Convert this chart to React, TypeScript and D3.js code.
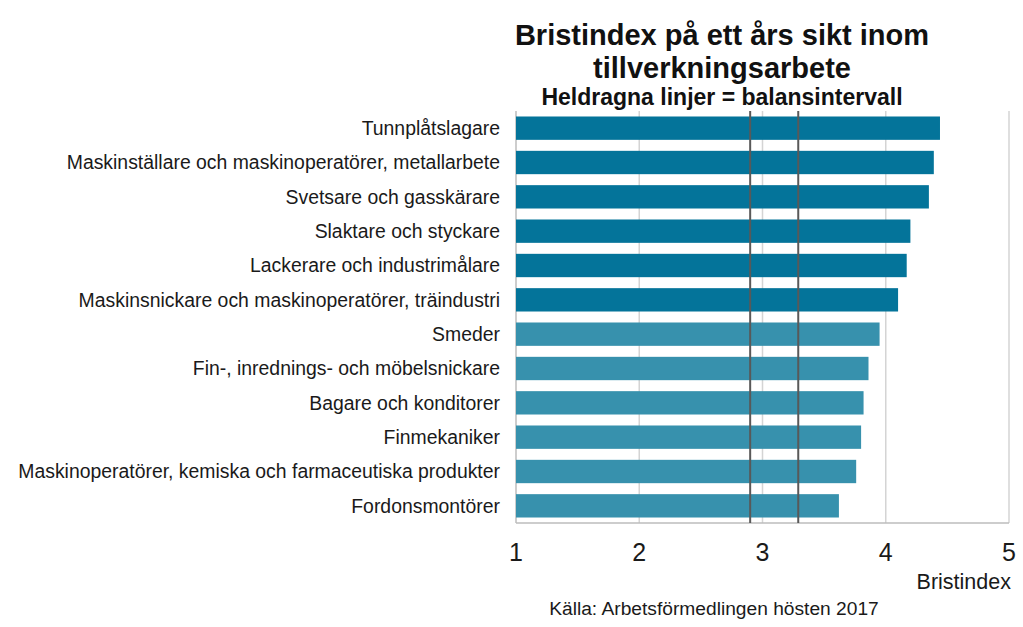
import * as d3 from "d3";
import { useEffect, useRef } from "react";

const categories = [
  "Tunnplåtslagare",
  "Maskinställare och maskinoperatörer, metallarbete",
  "Svetsare och gasskärare",
  "Slaktare och styckare",
  "Lackerare och industrimålare",
  "Maskinsnickare och maskinoperatörer, träindustri",
  "Smeder",
  "Fin-, inrednings- och möbelsnickare",
  "Bagare och konditorer",
  "Finmekaniker",
  "Maskinoperatörer, kemiska och farmaceutiska produkter",
  "Fordonsmontörer",
];
const values = [4.44, 4.39, 4.35, 4.2, 4.17, 4.1, 3.95, 3.86, 3.82, 3.8, 3.76, 3.62];
const balance = [2.9, 3.29];
const ticks = [1, 2, 3, 4, 5];

export default function App() {
  const ref = useRef<SVGSVGElement | null>(null);

  useEffect(() => {
    if (!ref.current) return;
    const width = 1023;
    const height = 627;
    const margin = { top: 111, right: 14, bottom: 104, left: 516 };
    const font = "'Liberation Sans', Arial, sans-serif";

    const svg = d3.select(ref.current);
    svg.selectAll("*").remove();

    const x = d3.scaleLinear().domain([1, 5]).range([margin.left, width - margin.right]);
    const y = d3
      .scaleBand()
      .domain(categories)
      .range([margin.top, height - margin.bottom])
      .paddingInner(0.32)
      .paddingOuter(0.16);

    // gridlines
    svg
      .append("g")
      .selectAll("line")
      .data(ticks)
      .join("line")
      .attr("x1", (d) => x(d))
      .attr("x2", (d) => x(d))
      .attr("y1", margin.top)
      .attr("y2", height - margin.bottom)
      .attr("stroke", (d) => (d === 1 ? "#bdbdbd" : "#d4d4d4"))
      .attr("stroke-width", 1.5);

    svg
      .append("line")
      .attr("x1", x(1))
      .attr("x2", x(5))
      .attr("y1", height - margin.bottom)
      .attr("y2", height - margin.bottom)
      .attr("stroke", "#bdbdbd")
      .attr("stroke-width", 1.5);

    // bars
    svg
      .append("g")
      .selectAll("rect")
      .data(values)
      .join("rect")
      .attr("x", x(1))
      .attr("y", (_, i) => y(categories[i])!)
      .attr("width", (d) => x(d) - x(1))
      .attr("height", y.bandwidth())
      .attr("fill", (_, i) => (i < 6 ? "#04749a" : "#3791ad"));

    // balance interval lines
    svg
      .append("g")
      .selectAll("line")
      .data(balance)
      .join("line")
      .attr("x1", (d) => x(d))
      .attr("x2", (d) => x(d))
      .attr("y1", margin.top)
      .attr("y2", height - margin.bottom)
      .attr("stroke", "#595959")
      .attr("stroke-width", 2);

    // category labels
    svg
      .append("g")
      .selectAll("text")
      .data(categories)
      .join("text")
      .attr("x", margin.left - 16)
      .attr("y", (d) => y(d)! + y.bandwidth() / 2)
      .attr("dy", "0.35em")
      .attr("text-anchor", "end")
      .attr("font-family", font)
      .attr("font-size", 19.4)
      .attr("fill", "#1a1a1a")
      .text((d) => d);

    // x tick labels
    svg
      .append("g")
      .selectAll("text")
      .data(ticks)
      .join("text")
      .attr("x", (d) => x(d))
      .attr("y", 561)
      .attr("text-anchor", "middle")
      .attr("font-family", font)
      .attr("font-size", 25)
      .attr("fill", "#1a1a1a")
      .text((d) => d);

    svg
      .append("text")
      .attr("x", width - margin.right + 2)
      .attr("y", 589)
      .attr("text-anchor", "end")
      .attr("font-family", font)
      .attr("font-size", 21.5)
      .attr("fill", "#1a1a1a")
      .text("Bristindex");

    svg
      .append("text")
      .attr("x", 714)
      .attr("y", 615)
      .attr("text-anchor", "middle")
      .attr("font-family", font)
      .attr("font-size", 19.2)
      .attr("fill", "#1a1a1a")
      .text("Källa: Arbetsförmedlingen hösten 2017");

    // titles
    const titles = [
      { t: "Bristindex på ett års sikt inom", y: 45, s: 29 },
      { t: "tillverkningsarbete", y: 78, s: 29 },
      { t: "Heldragna linjer = balansintervall", y: 105, s: 23 },
    ];
    svg
      .append("g")
      .selectAll("text")
      .data(titles)
      .join("text")
      .attr("x", 722)
      .attr("y", (d) => d.y)
      .attr("text-anchor", "middle")
      .attr("font-family", font)
      .attr("font-weight", "bold")
      .attr("font-size", (d) => d.s)
      .attr("fill", "#111")
      .text((d) => d.t);
  }, []);

  return (
    <svg
      ref={ref}
      width={1023}
      height={627}
      style={{ position: "absolute", left: 0, top: 0, background: "#fff" }}
    />
  );
}
